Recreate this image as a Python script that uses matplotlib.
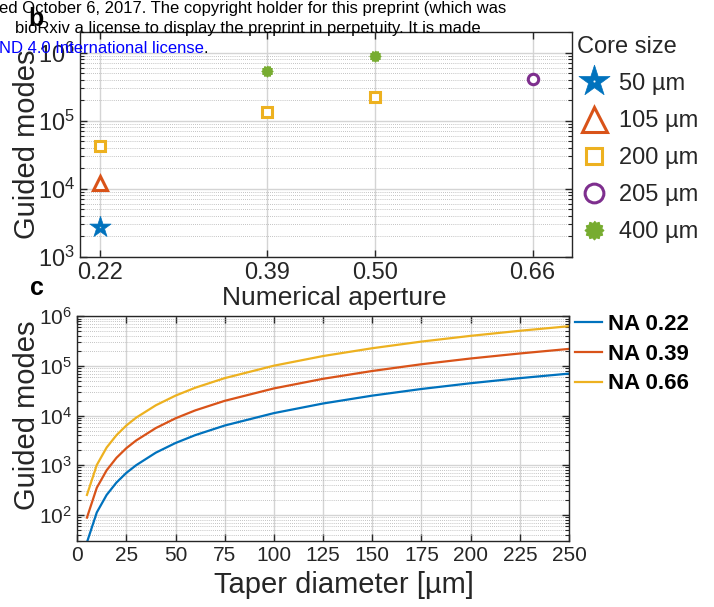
import numpy as np
import matplotlib
matplotlib.use("Agg")
import matplotlib.pyplot as plt
from matplotlib.path import Path
from matplotlib.text import Annotation
from matplotlib.ticker import LogLocator, NullFormatter, MultipleLocator, FixedLocator

plt.rcParams["font.family"] = ["Liberation Sans", "DejaVu Sans"]
plt.rcParams["mathtext.fontset"] = "custom"
plt.rcParams["mathtext.rm"] = "Liberation Sans"
plt.rcParams["mathtext.default"] = "regular"

# panel b: guided modes of stock fibres
na_ticks = [0.22, 0.39, 0.50, 0.66]
core_labels = ["50 µm", "105 µm", "200 µm", "205 µm", "400 µm"]
core_na = [[0.22], [0.22], [0.22, 0.39, 0.50], [0.66], [0.39, 0.50]]
core_modes = [[2.7e3], [1.2e4], [4.3e4, 1.36e5, 2.23e5], [4.1e5], [5.4e5, 8.9e5]]
core_colors = ["#0072BD", "#D95319", "#EDB120", "#7E2F8E", "#77AC30"]

# panel c: guided modes versus taper diameter
taper_d = [5, 10, 15, 20, 25, 30, 40, 50, 60, 75, 100, 125, 150, 175, 200, 225, 250]
modes_022 = [28, 112, 252, 448, 700, 1000, 1790, 2800, 4030, 6300, 11200,
             17500, 25200, 34300, 44800, 56700, 70000]
modes_039 = [88, 352, 790, 1410, 2200, 3150, 5600, 8800, 12700, 19800, 35200,
             55000, 79000, 108000, 141000, 178000, 220000]
modes_066 = [252, 1010, 2270, 4030, 6300, 9070, 16100, 25200, 36300, 56700,
             101000, 158000, 227000, 309000, 403000, 510000, 630000]
na_labels = ["NA 0.22", "NA 0.39", "NA 0.66"]
na_colors = ["#0072BD", "#D95319", "#EDB120"]

axis_gray = "#262626"

# five-point star with a small hole in the middle
a = np.pi / 2 + np.arange(10) * np.pi / 5
r = np.where(np.arange(10) % 2 == 0, 1.0, 0.382)
star_v = np.column_stack([r * np.cos(a), r * np.sin(a)])
b = np.linspace(0, -2 * np.pi, 13)[:-1]
hole_v = 0.09 * np.column_stack([np.cos(b), np.sin(b)])
star_hole = Path(
    np.vstack([star_v, star_v[:1], hole_v, hole_v[:1]]),
    [Path.MOVETO] + [Path.LINETO] * 9 + [Path.CLOSEPOLY]
    + [Path.MOVETO] + [Path.LINETO] * 11 + [Path.CLOSEPOLY],
)

# bumpy round marker for the 400 µm fibre
ang = np.linspace(0, 2 * np.pi, 25)[:-1]
rad = np.where(np.arange(24) % 2 == 0, 1.0, 0.8)
cog = Path(np.column_stack([rad * np.sin(ang), rad * np.cos(ang)]))


def style_axes(ax, tick_size):
    ax.set_yscale("log")
    ax.tick_params(which="both", direction="in", top=True, right=True,
                   colors=axis_gray, labelcolor=axis_gray, labelsize=tick_size)
    ax.tick_params(which="major", length=5, width=1)
    ax.tick_params(which="minor", length=3, width=0.8)
    for s in ax.spines.values():
        s.set_color(axis_gray)
        s.set_linewidth(1.0)
    ax.yaxis.set_major_locator(LogLocator(base=10, numticks=20))
    ax.yaxis.set_minor_locator(LogLocator(base=10, subs=range(2, 10), numticks=20))
    ax.yaxis.set_minor_formatter(NullFormatter())
    ax.grid(which="major", color="#d4d4d4", linewidth=1.0)
    ax.grid(which="minor", axis="y", color="#b0b0b0", linewidth=0.6,
            linestyle=(0, (1, 1.5)))
    ax.set_axisbelow(True)


fig = plt.figure(figsize=(7.14, 6.07), dpi=100)

# ---- panel b ----
ax1 = fig.add_axes([0.112, 0.577, 0.689, 0.370])
style_axes(ax1, 17)
markers = [star_hole, "^", "s", "o", cog]
sizes = [16, 10, 6.5, 7.5, 8]
leg_sizes = [23.5, 18, 12, 13.5, 13.5]
faces = [core_colors[0], "white", "white", "white", core_colors[4]]
edge_w = [0.5, 2.2, 2.2, 2.2, 0.8]
for lab, xs, ys, c, m, ms, fc, ew in zip(core_labels, core_na, core_modes,
                                         core_colors, markers, sizes, faces, edge_w):
    ax1.plot(xs, ys, linestyle="none", marker=m, markersize=ms,
             markerfacecolor=fc, markeredgecolor=c, markeredgewidth=ew, label=lab)
ax1.set_xlim(0.2, 0.7)
ax1.set_ylim(1e3, 2e6)
ax1.xaxis.set_major_locator(FixedLocator(na_ticks))
ax1.set_xticklabels([f"{v:.2f}" for v in na_ticks])
ax1.set_xlabel("Numerical aperture", fontsize=19, color=axis_gray, va="baseline")
ax1.xaxis.set_label_coords(0.516, -0.213)
ax1.set_ylabel("Guided modes", fontsize=21, color=axis_gray, va="center")
ax1.yaxis.set_label_coords(-0.108, 0.5)
leg1 = ax1.legend(title="Core size", loc="upper left", bbox_to_anchor=(0.7955, 0.957),
                  bbox_transform=fig.transFigure, frameon=False, fontsize=17,
                  title_fontsize=17, handlelength=1.4, handletextpad=0.35,
                  labelspacing=0.64, borderaxespad=0, alignment="left")
for h, s in zip(leg1.legend_handles, leg_sizes):
    h.set_markersize(s)
for t in leg1.get_texts():
    t.set_color(axis_gray)
leg1.get_title().set_color(axis_gray)

# ---- panel c ----
ax2 = fig.add_axes([0.108, 0.109, 0.689, 0.370])
style_axes(ax2, 15)
for ys, lab, c in zip([modes_022, modes_039, modes_066], na_labels, na_colors):
    ax2.plot(taper_d, ys, color=c, linewidth=1.6, label=lab)
ax2.set_xlim(0, 250)
ax2.set_ylim(30, 1e6)
ax2.xaxis.set_major_locator(MultipleLocator(25))
ax2.set_xlabel("Taper diameter [µm]", fontsize=21, color=axis_gray, va="baseline")
ax2.xaxis.set_label_coords(0.543, -0.231)
ax2.set_ylabel("Guided modes", fontsize=21, color=axis_gray, va="center")
ax2.yaxis.set_label_coords(-0.1016, 0.56)
leg2 = ax2.legend(loc="upper left", bbox_to_anchor=(0.7927, 0.4974),
                  bbox_transform=fig.transFigure, frameon=False,
                  prop={"size": 16, "weight": "bold"}, handlelength=1.2,
                  handletextpad=0.27, labelspacing=0.39, borderaxespad=0)

# panel letters
fig.text(0.039, 0.969, "b", fontsize=18, fontweight="bold", ha="left", va="center")
fig.text(0.042, 0.526, "c", fontsize=18, fontweight="bold", ha="left", va="center")

# preprint banner across the top
fig.text(-0.001, 0.9786, "ed October 6, 2017. The copyright holder for this preprint (which was",
         fontsize=12, ha="left", va="baseline", color="black")
fig.text(0.021, 0.9456, "bioRxiv a license to display the preprint in perpetuity. It is made",
         fontsize=12, ha="left", va="baseline", color="black")
lic = fig.text(-0.002, 0.9127, "ND 4.0 International license", fontsize=12,
               ha="left", va="baseline", color="#0000ff")
fig.add_artist(Annotation(".", xy=(1, 0), xycoords=lic, fontsize=12,
                          va="bottom", ha="left", color="black"))

fig.savefig("out.png", dpi=100)
